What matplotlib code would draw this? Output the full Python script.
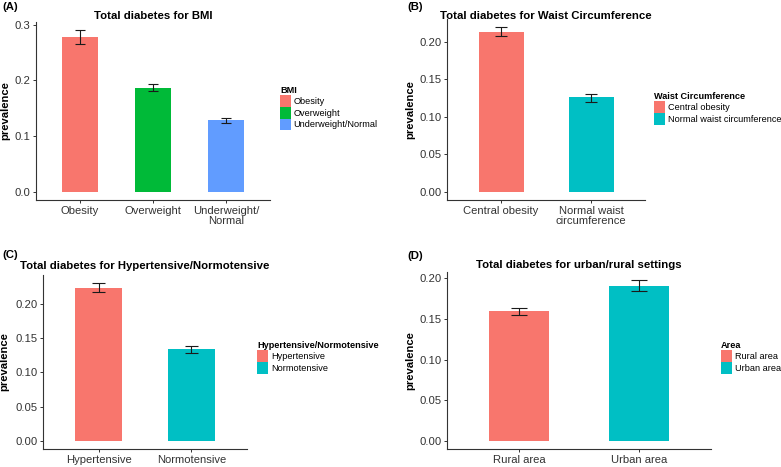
import matplotlib
matplotlib.use("Agg")
import matplotlib.pyplot as plt
from matplotlib.patches import Patch

plt.rcParams['font.family'] = ['Liberation Sans', 'DejaVu Sans']

W, H = 781, 467

# panel A - BMI
bmi_cats = ["Obesity", "Overweight", "Underweight/Normal"]
bmi_ticks = ["Obesity", "Overweight", "Underweight/\nNormal"]
bmi_prev = [0.277, 0.186, 0.128]
bmi_lo = [0.265, 0.181, 0.123]
bmi_hi = [0.290, 0.193, 0.133]

# panel B - waist circumference
waist_cats = ["Central obesity", "Normal waist circumference"]
waist_ticks = ["Central obesity", "Normal waist\ncircumference"]
waist_prev = [0.213, 0.1255]
waist_lo = [0.207, 0.120]
waist_hi = [0.219, 0.1305]

# panel C - hypertension
hyp_cats = ["Hypertensive", "Normotensive"]
hyp_ticks = ["Hypertensive", "Normotensive"]
hyp_prev = [0.2235, 0.1335]
hyp_lo = [0.217, 0.1288]
hyp_hi = [0.2305, 0.138]

# panel D - area
area_cats = ["Rural area", "Urban area"]
area_ticks = ["Rural area", "Urban area"]
area_prev = [0.1595, 0.1905]
area_lo = [0.155, 0.184]
area_hi = [0.164, 0.198]

cols3 = ["#F8766D", "#00BA38", "#619CFF"]
cols2 = ["#F8766D", "#00BFC4"]

fig = plt.figure(figsize=(W / 100, H / 100), dpi=100)


def fx(px):
    return px / W


def fy(py):
    return 1 - py / H


def panel(box, tag, tagpos, title, cats, ticks, prev, lo, hi, cols,
          yticks, fmt, ylab_x, leg_title, leg_pos):
    l, r, t, b = box
    ax = fig.add_axes([fx(l), fy(b), fx(r) - fx(l), fy(t) - fy(b)])
    x = list(range(1, len(cats) + 1))
    ax.bar(x, prev, width=0.5, color=cols)
    ax.vlines(x, lo, hi, color="#1a1a1a", lw=0.8)
    ax.hlines(lo, [i - 0.07 for i in x], [i + 0.07 for i in x], color="#1a1a1a", lw=0.8)
    ax.hlines(hi, [i - 0.07 for i in x], [i + 0.07 for i in x], color="#1a1a1a", lw=0.8)
    top = max(hi)
    ax.set_ylim(-0.05 * top, top * 1.05)
    ax.set_xlim(0.4, len(cats) + 0.6)
    ax.set_xticks(x)
    ax.set_xticklabels(ticks, fontsize=8.1, color="#333333", linespacing=1.0)
    ax.set_yticks(yticks)
    ax.set_yticklabels([fmt % v for v in yticks], fontsize=8.1, color="#333333")
    for s in ["top", "right"]:
        ax.spines[s].set_visible(False)
    for s in ["left", "bottom"]:
        ax.spines[s].set_color("#333333")
        ax.spines[s].set_linewidth(0.8)
    ax.tick_params(length=2.5, width=0.7, color="#333333", pad=1.5)
    ax.set_ylabel("prevalence", fontsize=8.1, fontweight="bold")
    ax.yaxis.set_label_coords(fx(ylab_x), (fy(b) + fy(t)) / 2, transform=fig.transFigure)
    fig.text(fx((l + r) / 2), fy(tagpos[2]), title, ha="center", va="center",
             fontsize=8.2, fontweight="bold")
    fig.text(fx(tagpos[0]), fy(tagpos[1]), tag, ha="left", va="center",
             fontsize=8.2, fontweight="bold")
    handles = [Patch(facecolor=c, edgecolor="none") for c in cols]
    fig.legend(handles, cats, loc="upper left",
               bbox_to_anchor=(fx(leg_pos[0]), fy(leg_pos[1])),
               frameon=False, fontsize=6.6, title=leg_title,
               title_fontproperties={"weight": "bold", "size": 6.6},
               handlelength=1.25, handleheight=1.6, labelspacing=0.0,
               handletextpad=0.25, borderpad=0, borderaxespad=0,
               alignment="left")
    return ax


panel((36, 270, 22, 200), "(A)", (2, 7, 15.7), "Total diabetes for BMI",
      bmi_cats, bmi_ticks, bmi_prev, bmi_lo, bmi_hi, cols3,
      [0.0, 0.1, 0.2, 0.3], "%.1f", 10.5, "BMI", (280, 86))
panel((447, 645, 19, 200), "(B)", (407, 7, 15.7), "Total diabetes for Waist Circumference",
      waist_cats, waist_ticks, waist_prev, waist_lo, waist_hi, cols2,
      [0.0, 0.05, 0.10, 0.15, 0.20], "%.2f", 415.5, "Waist Circumference", (654, 92))
panel((43, 247, 275, 449), "(C)", (2, 255, 265.7), "Total diabetes for Hypertensive/Normotensive",
      hyp_cats, hyp_ticks, hyp_prev, hyp_lo, hyp_hi, cols2,
      [0.0, 0.05, 0.10, 0.15, 0.20], "%.2f", 9, "Hypertensive/Normotensive", (257, 341))
panel((447, 711, 272, 449), "(D)", (407, 256, 265), "Total diabetes for urban/rural settings",
      area_cats, area_ticks, area_prev, area_lo, area_hi, cols2,
      [0.0, 0.05, 0.10, 0.15, 0.20], "%.2f", 415.5, "Area", (721, 341))

fig.savefig("out.png", dpi=100)
